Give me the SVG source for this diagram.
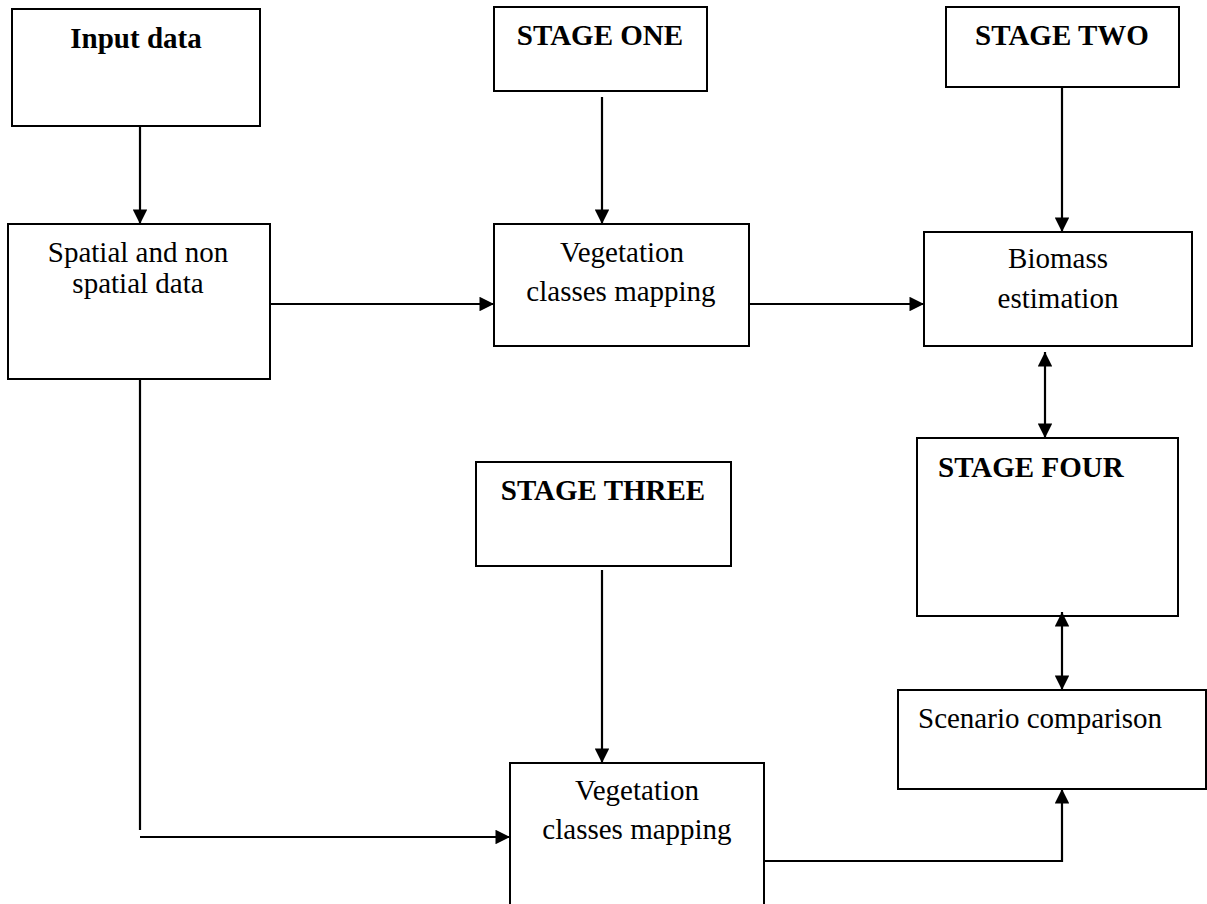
<svg xmlns="http://www.w3.org/2000/svg" width="1207" height="904" viewBox="0 0 1207 904">
<style>
.box{fill:#fff;stroke:#000;stroke-width:2}
.t{font-family:"Liberation Serif","Times New Roman",serif;font-size:29px;fill:#000}
.b{font-weight:bold}
.c{text-anchor:middle}
.conn path{fill:none;stroke:#000;stroke-width:2.2}
</style>
<defs>
<marker id="ah" viewBox="0 0 10 10" refX="10" refY="5" markerWidth="6.6" markerHeight="6.6" orient="auto-start-reverse" markerUnits="strokeWidth">
<path d="M0,0 L10,5 L0,10 z" fill="#000"/>
</marker>
</defs>
<rect width="1207" height="904" fill="#fff"/>
<g id="input">
<rect class="box" x="12" y="9" width="248" height="117"/>
<text class="t b c" x="136" y="48">Input data</text>
</g>
<g id="stage-one">
<rect class="box" x="494" y="7" width="213" height="84"/>
<text class="t b c" x="600" y="45">STAGE ONE</text>
</g>
<g id="stage-two">
<rect class="box" x="946" y="7" width="233" height="80"/>
<text class="t b c" x="1062" y="45">STAGE TWO</text>
</g>
<g id="spatial">
<rect class="box" x="8" y="224" width="262" height="155"/>
<text class="t c" x="138" y="262">Spatial and non</text>
<text class="t c" x="138" y="293">spatial data</text>
</g>
<g id="veg1">
<rect class="box" x="494" y="224" width="255" height="122"/>
<text class="t c" x="622" y="262">Vegetation</text>
<text class="t c" x="621" y="301">classes mapping</text>
</g>
<g id="biomass">
<rect class="box" x="924" y="232" width="268" height="114"/>
<text class="t c" x="1058" y="268">Biomass</text>
<text class="t c" x="1058" y="308">estimation</text>
</g>
<g id="stage-four">
<rect class="box" x="917" y="438" width="261" height="178"/>
<text class="t b" x="938" y="477">STAGE FOUR</text>
</g>
<g id="stage-three">
<rect class="box" x="476" y="462" width="255" height="104"/>
<text class="t b c" x="603" y="500">STAGE THREE</text>
</g>
<g id="scenario">
<rect class="box" x="898" y="690" width="308" height="99"/>
<text class="t" x="918" y="728">Scenario comparison</text>
</g>
<g id="veg2">
<rect class="box" x="510" y="763" width="254" height="150"/>
<text class="t c" x="637" y="800">Vegetation</text>
<text class="t c" x="637" y="839">classes mapping</text>
</g>
<g id="connectors" class="conn">
<path d="M140 126 V224" marker-end="url(#ah)"/>
<path d="M602 97 V224" marker-end="url(#ah)"/>
<path d="M1062 87 V232" marker-end="url(#ah)"/>
<path d="M270 304 H494" marker-end="url(#ah)"/>
<path d="M749 304 H924" marker-end="url(#ah)"/>
<path d="M1045 352 V438" marker-start="url(#ah)" marker-end="url(#ah)"/>
<path d="M1062 612 V690" marker-start="url(#ah)" marker-end="url(#ah)"/>
<path d="M602 570 V763" marker-end="url(#ah)"/>
<path d="M140 379 V830"/>
<path d="M140 837 H510" marker-end="url(#ah)"/>
<path d="M764 861 H1062 V789" marker-end="url(#ah)"/>
</g>
</svg>
